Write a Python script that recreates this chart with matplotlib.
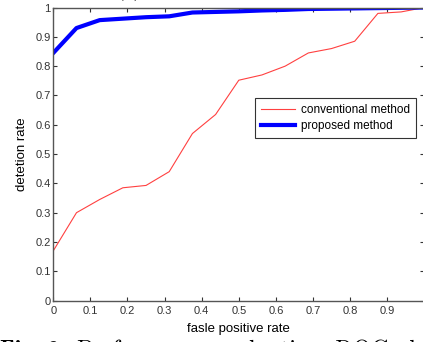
import matplotlib
matplotlib.use("Agg")
import matplotlib.pyplot as plt

# false positive rate sample points (shared by both curves)
fpr = [0, 0.0625, 0.125, 0.1875, 0.25, 0.3125, 0.375, 0.4375, 0.5,
       0.5625, 0.625, 0.6875, 0.75, 0.8125, 0.875, 0.9375, 1.0]
conventional = [0.17, 0.30, 0.345, 0.385, 0.393, 0.44, 0.57, 0.635, 0.752,
                0.77, 0.80, 0.845, 0.86, 0.885, 0.98, 0.985, 1.0]
proposed = [0.845, 0.93, 0.957, 0.962, 0.967, 0.97, 0.983, 0.985, 0.987,
            0.99, 0.992, 0.995, 0.996, 0.997, 0.998, 0.999, 1.0]

xticks = [0, 0.1, 0.2, 0.3, 0.4, 0.5, 0.6, 0.7, 0.8, 0.9]
yticks = [0, 0.1, 0.2, 0.3, 0.4, 0.5, 0.6, 0.7, 0.8, 0.9, 1]

plt.rcParams['font.family'] = ['Liberation Sans', 'DejaVu Sans']

fig = plt.figure(figsize=(4.23, 3.42), dpi=100)
ax = fig.add_axes([0.126, 0.121, 0.877, 0.857])

ax.plot(fpr, conventional, color='#ff4040', lw=0.8, label='conventional method')
ax.plot(fpr, proposed, color='#0000ff', lw=3.0, label='proposed method')

ax.set_xlim(0, 1)
ax.set_ylim(0, 1)
ax.set_xticks(xticks)
ax.set_yticks(yticks)
ax.set_xticklabels([f"{t:g}" for t in xticks])
ax.set_yticklabels([f"{t:g}" for t in yticks])
ax.tick_params(direction='in', length=3, width=0.8, labelsize=8,
               colors='#333333', top=True, right=True, pad=2)
ax.tick_params(axis='x', pad=4)
for s in ax.spines.values():
    s.set_color('#555555')
    s.set_linewidth(1.0)

ax.set_xlabel("fasle positive rate", fontsize=9.5, labelpad=5)
ax.set_ylabel("detetion rate", fontsize=9.5, labelpad=5)

leg = ax.legend(loc='upper left', bbox_to_anchor=(0.544, 0.69), fontsize=8.5,
                frameon=True, fancybox=False, borderpad=0.5, handlelength=2.9,
                handletextpad=0.5, labelspacing=0.35, borderaxespad=0)
leg.get_frame().set_edgecolor('black')
leg.get_frame().set_linewidth(0.8)

# caption fragments cut by the screenshot
fig.text(0.0, -0.045, "Fig. 9.", fontsize=17, family='cmb10', va='baseline')
fig.text(0.182, -0.045, "Performance evaluation: ROC pl", fontsize=17,
         family='cmr10', va='baseline')
fig.text(0.125, 1.012, "g", fontsize=14, family='cmr10', va='baseline')
fig.text(0.275, 1.012, "(a)", fontsize=14, family='cmr10', va='baseline')

fig.savefig("out.png", dpi=100)
